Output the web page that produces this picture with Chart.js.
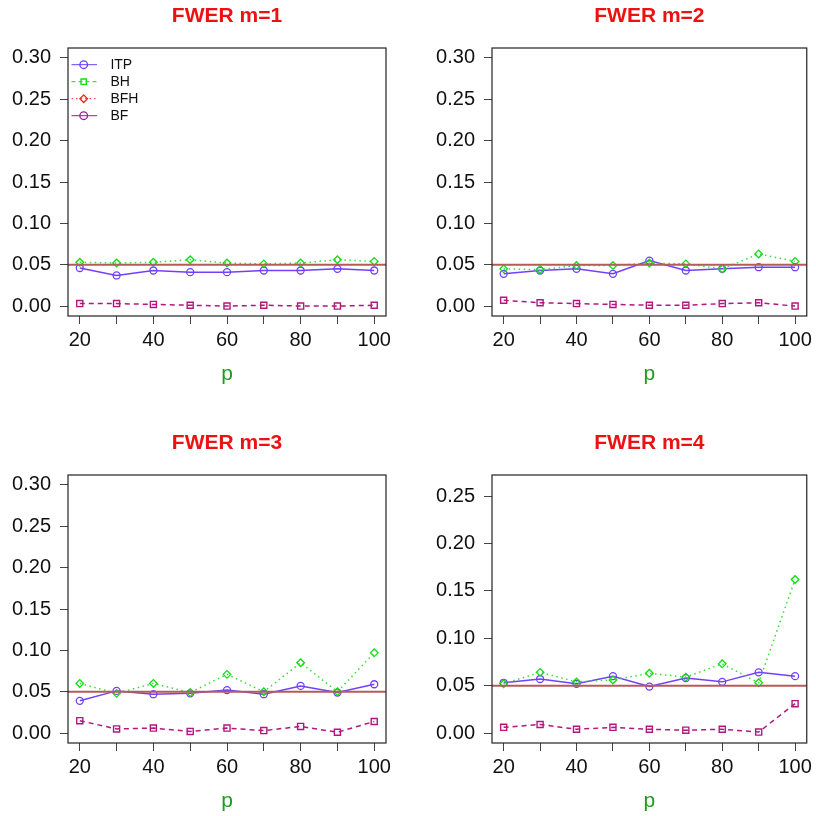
<!DOCTYPE html>
<html>
<head>
<meta charset="utf-8">
<script src="https://cdn.jsdelivr.net/npm/chart.js@4.4.0/dist/chart.umd.min.js"></script>
<style>
body { margin: 0; background: #fff; }
.panel { position: absolute; width: 408px; height: 408px; }
</style>
</head>
<body>
<div class="panel" style="left:0;top:0"><canvas id="c1" width="408" height="408"></canvas></div>
<div class="panel" style="left:408px;top:0"><canvas id="c2" width="408" height="408"></canvas></div>
<div class="panel" style="left:0;top:408px"><canvas id="c3" width="408" height="408"></canvas></div>
<div class="panel" style="left:408px;top:408px"><canvas id="c4" width="408" height="408"></canvas></div>
<script>
var pValues = [20, 30, 40, 50, 60, 70, 80, 90, 100];
var xLabelEvery = 20;
var yTicksA = [0, 0.05, 0.10, 0.15, 0.20, 0.25, 0.30];
var yTicksB = [0, 0.05, 0.10, 0.15, 0.20, 0.25];
var titles = ["FWER m=1", "FWER m=2", "FWER m=3", "FWER m=4"];
var alphaLevel = 0.05;

// circles (solid), diamonds (dotted), squares (dashed)
var itp1 = [0.046, 0.037, 0.043, 0.041, 0.041, 0.043, 0.043, 0.045, 0.043];
var bh1  = [0.053, 0.052, 0.053, 0.056, 0.052, 0.051, 0.052, 0.056, 0.054];
var bf1  = [0.003, 0.003, 0.002, 0.001, 0.000, 0.001, 0.000, 0.000, 0.001];

var itp2 = [0.039, 0.043, 0.045, 0.039, 0.055, 0.043, 0.045, 0.047, 0.047];
var bh2  = [0.045, 0.044, 0.049, 0.049, 0.052, 0.051, 0.045, 0.063, 0.054];
var bf2  = [0.007, 0.004, 0.003, 0.002, 0.001, 0.001, 0.003, 0.004, 0.000];

var itp3 = [0.039, 0.051, 0.047, 0.048, 0.052, 0.047, 0.057, 0.049, 0.059];
var bh3  = [0.060, 0.048, 0.060, 0.049, 0.071, 0.050, 0.085, 0.050, 0.097];
var bf3  = [0.015, 0.005, 0.006, 0.002, 0.006, 0.003, 0.008, 0.001, 0.014];

var itp4 = [0.053, 0.057, 0.052, 0.060, 0.049, 0.058, 0.054, 0.064, 0.060];
var bh4  = [0.052, 0.064, 0.054, 0.056, 0.063, 0.059, 0.073, 0.053, 0.162];
var bf4  = [0.006, 0.009, 0.004, 0.006, 0.004, 0.003, 0.004, 0.001, 0.031];

var legendLabels  = ["ITP", "BH", "BFH", "BF"];
var legendColors  = ["#6a3cff", "#11dd11", "#ff2222", "#9a1a9a"];
var legendMarkers = ["circle", "rect", "rectRot", "circle"];
var legendDashes  = [[], [4, 3], [1.5, 3], []];

Chart.defaults.font.family = "'Liberation Sans', Arial, sans-serif";

var boxPlugin = {
  id: "rbox",
  afterDatasetsDraw: function(chart) {
    var ctx = chart.ctx, a = chart.chartArea;
    var yy = chart.scales.y.getPixelForValue(alphaLevel);
    ctx.save();
    ctx.strokeStyle = "#b35c58";
    ctx.lineWidth = 2;
    ctx.beginPath();
    ctx.moveTo(a.left, yy);
    ctx.lineTo(a.right, yy);
    ctx.stroke();
    ctx.restore();
  },
  afterDraw: function(chart, args, opts) {
    var ctx = chart.ctx, a = chart.chartArea;
    ctx.save();
    ctx.strokeStyle = "#222";
    ctx.lineWidth = 1.2;
    ctx.strokeRect(a.left, a.top, a.right - a.left, a.bottom - a.top);
    var cx = (a.left + a.right) / 2;
    ctx.fillStyle = "#ee1111";
    ctx.font = "bold 21px 'Liberation Sans', Arial, sans-serif";
    ctx.textAlign = "center";
    ctx.textBaseline = "middle";
    ctx.fillText(opts.title, cx, a.top - 32);
    ctx.fillStyle = "#229922";
    ctx.font = "21px 'Liberation Sans', Arial, sans-serif";
    ctx.textBaseline = "alphabetic";
    ctx.fillText("p", cx, a.bottom + 64);
    if (opts.legend) {
      ctx.font = "14px 'Liberation Sans', Arial, sans-serif";
      ctx.textAlign = "left";
      ctx.textBaseline = "middle";
      for (var i = 0; i < legendLabels.length; i++) {
        var ly = a.top + 16.7 + i * 17;
        ctx.strokeStyle = legendColors[i];
        ctx.lineWidth = 1;
        ctx.setLineDash(legendDashes[i]);
        ctx.beginPath();
        ctx.moveTo(a.left + 3.5, ly);
        ctx.lineTo(a.left + 29, ly);
        ctx.stroke();
        ctx.setLineDash([]);
        ctx.fillStyle = "rgba(0,0,0,0)";
        ctx.lineWidth = 1.3;
        Chart.helpers.drawPoint(ctx, {pointStyle: legendMarkers[i], radius: 3.8, rotation: 0, borderWidth: 1.3}, a.left + 15.7, ly);
        ctx.fillStyle = "#111";
        ctx.fillText(legendLabels[i], a.left + 42.4, ly);
      }
    }
    ctx.restore();
  }
};

function makePanel(id, title, itp, bh, bf, yTicks, yMin, yMax, pad, showLegend) {
  new Chart(id, {
    type: "line",
    data: {
      labels: pValues,
      datasets: [{
        label: "BF",
        data: bf,
        borderColor: "#b3177f",
        borderWidth: 1.5,
        borderDash: [5, 4],
        pointStyle: "rect",
        pointRadius: 4.3,
        pointBorderWidth: 1.4,
        pointBackgroundColor: "rgba(0,0,0,0)",
        pointBorderColor: "#b3177f",
        fill: false,
        tension: 0
      }, {
        label: "BH",
        data: bh,
        borderColor: "#33e033",
        borderWidth: 1.5,
        borderDash: [1.5, 3.5],
        pointStyle: "rectRot",
        pointRadius: 3.8,
        pointBorderWidth: 1.3,
        pointBackgroundColor: "rgba(0,0,0,0)",
        pointBorderColor: "#11dd11",
        fill: false,
        tension: 0
      }, {
        label: "ITP",
        data: itp,
        borderColor: "#7040ff",
        borderWidth: 1.5,
        pointStyle: "circle",
        pointRadius: 3.5,
        pointBorderWidth: 1.3,
        pointBackgroundColor: "rgba(0,0,0,0)",
        pointBorderColor: "#7040ff",
        fill: false,
        tension: 0
      }]
    },
    options: {
      responsive: false,
      animation: false,
      layout: {padding: pad},
      plugins: {
        legend: {display: false},
        tooltip: {enabled: false},
        rbox: {title: title, legend: showLegend}
      },
      scales: {
        x: {
          type: "linear",
          min: 16.8,
          max: 103.2,
          afterFit: function(s) { s.height = 70; },
          afterBuildTicks: function(s) { s.ticks = pValues.map(function(v) { return {value: v}; }); },
          grid: {drawOnChartArea: false, drawTicks: true, tickLength: 8, color: "#444"},
          border: {display: false},
          ticks: {
            font: {size: 20},
            color: "#111",
            padding: 4,
            maxRotation: 0,
            autoSkip: false,
            callback: function(v) { return v % xLabelEvery === 0 ? String(v) : ""; }
          }
        },
        y: {
          type: "linear",
          min: yMin,
          max: yMax,
          afterFit: function(s) { s.width = 60; },
          afterBuildTicks: function(s) { s.ticks = yTicks.map(function(v) { return {value: v}; }); },
          grid: {drawOnChartArea: false, drawTicks: true, tickLength: 8, color: "#444"},
          border: {display: false},
          ticks: {
            font: {size: 20},
            color: "#111",
            padding: 9,
            autoSkip: false,
            callback: function(v) { return v.toFixed(2); }
          }
        }
      }
    },
    plugins: [boxPlugin]
  });
}

makePanel("c1", titles[0], itp1, bh1, bf1, yTicksA, -0.012, 0.312, {left: 8, right: 22, top: 48, bottom: 22}, true);
makePanel("c2", titles[1], itp2, bh2, bf2, yTicksA, -0.012, 0.312, {left: 24, right: 6, top: 48, bottom: 22}, false);
makePanel("c3", titles[2], itp3, bh3, bf3, yTicksA, -0.012, 0.312, {left: 8, right: 22, top: 67, bottom: 3}, false);
makePanel("c4", titles[3], itp4, bh4, bf4, yTicksB, -0.0105, 0.2722, {left: 24, right: 6, top: 67, bottom: 3}, false);
</script>
</body>
</html>
